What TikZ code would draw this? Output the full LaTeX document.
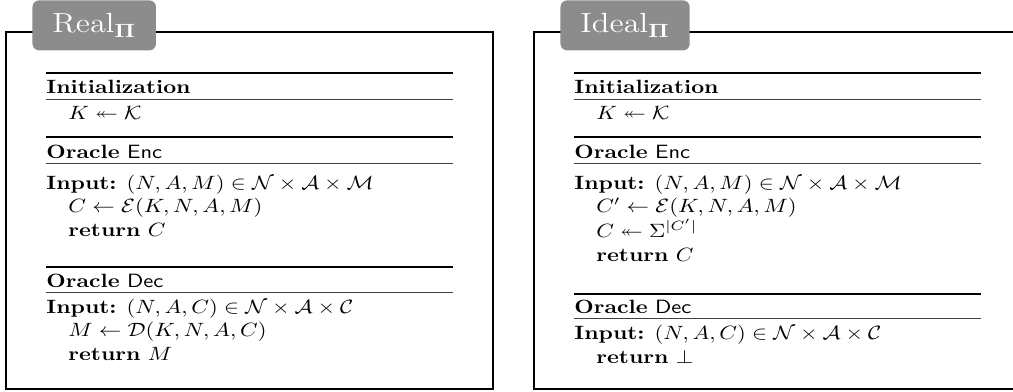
\documentclass[tikz,border=0pt]{standalone}
\usepackage{amsmath,amssymb}
\definecolor{tabgray}{RGB}{140,140,140}
\tikzset{
  frame/.style={line width=0.8pt},
  hrule/.style={line width=0.8pt},
  subrule/.style={line width=0.4pt,black!75},
  tabnode/.style={fill=tabgray,text=white,rounded corners=3.5pt,font=\Large,anchor=north west,minimum height=26pt,inner xsep=8.9pt,xscale=1.17},
  codeline/.style={anchor=base west,inner sep=0pt,xscale=1.17},
}
\newcommand{\Oracle}[1]{\textbf{Oracle} $\mathsf{#1}$}
\begin{document}
\begin{tikzpicture}[x=0.52pt,y=0.52pt,yscale=-1,xscale=1]
\useasboundingbox (0,0) rectangle (1013,392);

%Frames
\draw [frame] (6,32) rectangle (493,389) ;
\draw [frame] (534,32) rectangle (1021,389) ;
%Tabs
\node [tabnode] (realtab) at (32,0) {$\mathrm{Real}_{\mathbf{\Pi}}$};
\node [tabnode] (idealtab) at (560,0) {$\mathrm{Ideal}_{\mathbf{\Pi}}$};

%Straight Lines (real)
\draw [hrule] (46,73) -- (453,73) ;
\draw [subrule] (46,99) -- (453,99) ;
\draw [hrule] (46,137) -- (453,137) ;
\draw [subrule] (46,163) -- (453,163) ;
\draw [hrule] (46,267) -- (453,267) ;
\draw [subrule] (46,292) -- (453,292) ;
%Straight Lines (ideal)
\draw [hrule] (574,73) -- (981,73) ;
\draw [subrule] (574,99) -- (981,99) ;
\draw [hrule] (574,137) -- (981,137) ;
\draw [subrule] (574,163) -- (981,163) ;
\draw [hrule] (574,294) -- (981,294) ;
\draw [subrule] (574,318) -- (981,318) ;

% Text Node (real)
\node [codeline] (rinit) at (46,94) {\textbf{Initialization}};
\node [codeline] (rkey) at (68,119) {$K \twoheadleftarrow \mathcal{K}$};
\node [codeline] (renc) at (46,158) {\Oracle{Enc}};
\node [codeline] (rencin) at (46,189) {\textbf{Input:} $(N,A,M) \in \mathcal{N} \times \mathcal{A} \times \mathcal{M}$};
\node [codeline] (rencc) at (68,212.5) {$C \leftarrow \mathcal{E}(K,N,A,M)$};
\node [codeline] (rencret) at (68,236) {\textbf{return} $C$};
\node [codeline] (rdec) at (46,287) {\Oracle{Dec}};
\node [codeline] (rdecin) at (46,313) {\textbf{Input:} $(N,A,C) \in \mathcal{N} \times \mathcal{A} \times \mathcal{C}$};
\node [codeline] (rdecm) at (68,336.5) {$M \leftarrow \mathcal{D}(K,N,A,C)$};
\node [codeline] (rdecret) at (68,360) {\textbf{return} $M$};

% Text Node (ideal)
\node [codeline] (iinit) at (574,94) {\textbf{Initialization}};
\node [codeline] (ikey) at (596,119) {$K \twoheadleftarrow \mathcal{K}$};
\node [codeline] (ienc) at (574,158) {\Oracle{Enc}};
\node [codeline] (iencin) at (574,189) {\textbf{Input:} $(N,A,M) \in \mathcal{N} \times \mathcal{A} \times \mathcal{M}$};
\node [codeline] (iencc) at (596,212) {$C' \leftarrow \mathcal{E}(K,N,A,M)$};
\node [codeline] (iencr) at (596,237.5) {$C \twoheadleftarrow \Sigma^{|C'|}$};
\node [codeline] (iencret) at (596,261) {\textbf{return} $C$};
\node [codeline] (idec) at (574,313) {\Oracle{Dec}};
\node [codeline] (idecin) at (574,339) {\textbf{Input:} $(N,A,C) \in \mathcal{N} \times \mathcal{A} \times \mathcal{C}$};
\node [codeline] (idecret) at (596,363) {\textbf{return} $\bot$};

\end{tikzpicture}
\end{document}
